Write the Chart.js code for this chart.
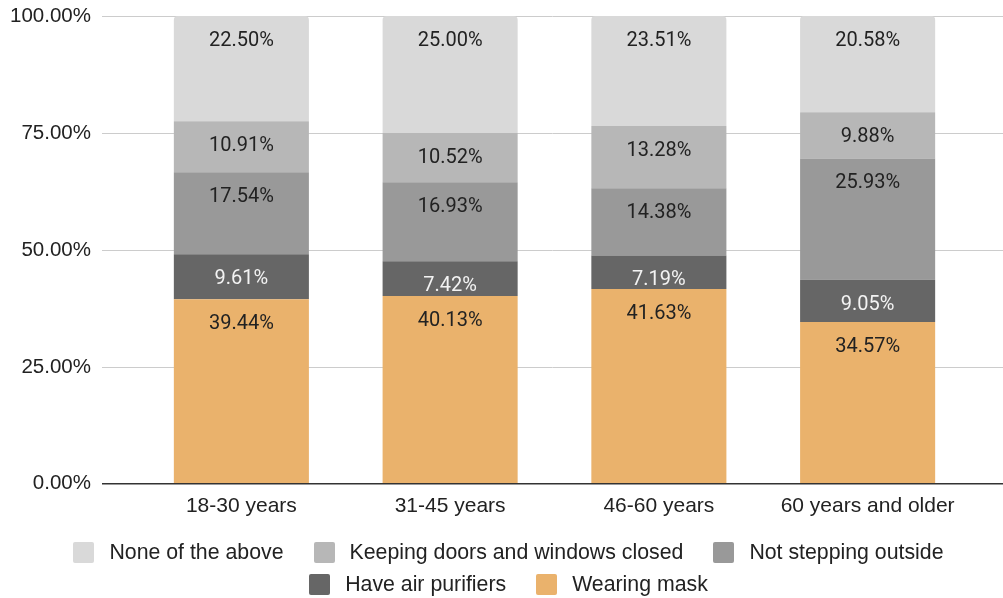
<!DOCTYPE html>
<html>
<head>
<meta charset="utf-8">
<script src="https://cdn.jsdelivr.net/npm/chart.js@4.4.1/dist/chart.umd.min.js"></script>
<style>
  html, body { margin: 0; padding: 0; background: #fff; }
  #wrap { position: relative; width: 1003px; height: 598px; overflow: hidden; font-family: "Liberation Sans", Arial, sans-serif; }
  #chartBox { position: absolute; left: 0; top: 0; width: 1003px; height: 541px; }
  .legend-row { position: absolute; left: 14px; right: 0; height: 22px; display: flex; justify-content: center; align-items: center; }
  .legend-item { display: flex; align-items: center; margin: 0 15px; font-size: 21.3px; color: #222; white-space: nowrap; }
  .legend-box { width: 21px; height: 21px; border-radius: 2px; margin-right: 15px; flex: none; }
</style>
</head>
<body>
<div id="wrap">
  <div id="chartBox"><canvas id="chart" width="1003" height="541"></canvas></div>
  <div class="legend-row" id="legendRow1" style="top:541px"></div>
  <div class="legend-row" id="legendRow2" style="top:573px"></div>
</div>
<script>
// Age groups and the share (%) of respondents per protective measure
const categories = ['18-30 years', '31-45 years', '46-60 years', '60 years and older'];
const wearingMask = [39.44, 40.13, 41.63, 34.57];
const airPurifiers = [9.61, 7.42, 7.19, 9.05];
const notSteppingOutside = [17.54, 16.93, 14.38, 25.93];
const doorsWindowsClosed = [10.91, 10.52, 13.28, 9.88];
const noneOfTheAbove = [22.50, 25.00, 23.51, 20.58];
const yTickValues = [0, 25, 50, 75, 100];

const seriesNames = {
  mask: 'Wearing mask',
  purifiers: 'Have air purifiers',
  outside: 'Not stepping outside',
  closed: 'Keeping doors and windows closed',
  none: 'None of the above'
};

const colors = {
  mask: '#EAB26C',
  purifiers: '#666666',
  outside: '#999999',
  closed: '#B7B7B7',
  none: '#D9D9D9'
};

const textDark = '#222222';
const axisFont = '"Liberation Sans", Arial, sans-serif';
const valueFont = 'Roboto, "Noto Sans", sans-serif';

function makeDataset(key, values, labelColor, radius) {
  return {
    label: seriesNames[key],
    data: values,
    backgroundColor: colors[key],
    borderWidth: 0,
    borderRadius: radius || 0,
    borderSkipped: false,
    labelColor: labelColor
  };
}

const datasets = [
  makeDataset('mask', wearingMask, textDark),
  makeDataset('purifiers', airPurifiers, '#F3F3F3'),
  makeDataset('outside', notSteppingOutside, textDark),
  makeDataset('closed', doorsWindowsClosed, textDark),
  makeDataset('none', noneOfTheAbove, textDark, { topLeft: 4, topRight: 4, bottomLeft: 0, bottomRight: 0 })
];

// Horizontal grid lines running past both sides of the plot area, plus the dark baseline
const gridPlugin = {
  id: 'wideGrid',
  beforeDatasetsDraw(chart) {
    const { ctx, chartArea, scales } = chart;
    const x0 = chartArea.left - 35;
    const x1 = chartArea.right + 31;
    ctx.save();
    ctx.strokeStyle = '#CCCCCC';
    ctx.lineWidth = 1;
    yTickValues.forEach(v => {
      if (v === 0) return;
      const py = Math.round(scales.y.getPixelForValue(v)) + 0.5;
      ctx.beginPath();
      ctx.moveTo(x0, py);
      ctx.lineTo(x1, py);
      ctx.stroke();
    });
    ctx.restore();
  },
  afterDatasetsDraw(chart) {
    const { ctx, chartArea, scales } = chart;
    const py = scales.y.getPixelForValue(0);
    ctx.save();
    ctx.strokeStyle = '#333333';
    ctx.lineWidth = 1.5;
    ctx.beginPath();
    ctx.moveTo(chartArea.left - 35, py);
    ctx.lineTo(chartArea.right + 31, py);
    ctx.stroke();
    ctx.restore();
  }
};

// Value labels just under the top edge of every segment
const valueLabelPlugin = {
  id: 'segmentValues',
  afterDatasetsDraw(chart) {
    const { ctx } = chart;
    ctx.save();
    ctx.font = '20px ' + valueFont;
    ctx.textAlign = 'center';
    ctx.textBaseline = 'middle';
    chart.data.datasets.forEach((ds, i) => {
      const meta = chart.getDatasetMeta(i);
      meta.data.forEach((bar, j) => {
        const top = Math.min(bar.y, bar.base);
        ctx.fillStyle = ds.labelColor;
        ctx.fillText(ds.data[j].toFixed(2) + '%', bar.x, top + 25);
      });
    });
    ctx.restore();
  }
};

new Chart(document.getElementById('chart'), {
  type: 'bar',
  data: { labels: categories, datasets: datasets },
  options: {
    responsive: false,
    animation: false,
    layout: { padding: { top: 16, right: 31, bottom: 12, left: 0 } },
    plugins: {
      legend: { display: false },
      tooltip: { enabled: false }
    },
    datasets: {
      bar: { categoryPercentage: 1.0, barPercentage: 0.647 }
    },
    scales: {
      x: {
        stacked: true,
        grid: { display: false, drawTicks: false },
        border: { display: false },
        ticks: {
          padding: 10,
          color: textDark,
          font: { family: axisFont, size: 21 },
          maxRotation: 0,
          autoSkip: false
        }
      },
      y: {
        stacked: true,
        min: 0,
        max: 100,
        afterFit(scale) { scale.width = 137; },
        afterBuildTicks(scale) { scale.ticks = yTickValues.map(v => ({ value: v })); },
        grid: {
          display: true,
          drawOnChartArea: false,
          drawTicks: true,
          tickLength: 46,
          color: 'rgba(0,0,0,0)'
        },
        border: { display: false },
        ticks: {
          padding: 0,
          color: textDark,
          font: { family: axisFont, size: 20.5 },
          callback: v => Number(v).toFixed(2) + '%'
        }
      }
    }
  },
  plugins: [gridPlugin, valueLabelPlugin]
});

// Legend rows, listed from the top of the stack down
const legendRows = [
  ['none', 'closed', 'outside'],
  ['purifiers', 'mask']
];
legendRows.forEach((keys, r) => {
  const row = document.getElementById('legendRow' + (r + 1));
  keys.forEach(k => {
    const item = document.createElement('div');
    item.className = 'legend-item';
    const box = document.createElement('span');
    box.className = 'legend-box';
    box.style.background = colors[k];
    const txt = document.createElement('span');
    txt.textContent = seriesNames[k];
    item.appendChild(box);
    item.appendChild(txt);
    row.appendChild(item);
  });
});
</script>
</body>
</html>
